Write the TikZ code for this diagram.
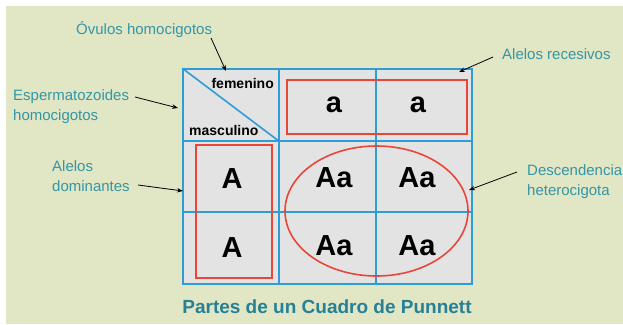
\documentclass[tikz,border=0pt]{standalone}
\usepackage{fontspec}
\setmainfont{Liberation Sans}
\usetikzlibrary{arrows.meta}
\definecolor{bggreen}{RGB}{225,230,196}
\definecolor{cellgray}{RGB}{227,227,227}
\definecolor{gridblue}{RGB}{46,157,214}
\definecolor{redline}{RGB}{232,70,58}
\definecolor{labelteal}{RGB}{52,150,166}
\definecolor{titleteal}{RGB}{38,128,150}
\tikzset{
  cell/.style={draw=gridblue, fill=cellgray, line width=1.6pt, inner sep=0pt},
  lbl/.style={text=labelteal, font=\fontsize{15}{20}\selectfont, inner sep=0pt, align=left, anchor=base west},
  big/.style={font=\fontsize{29}{30}\selectfont\bfseries, inner sep=0pt, anchor=base},
  small/.style={font=\fontsize{14}{16}\selectfont\bfseries, inner sep=0pt, anchor=base},
  redbox/.style={draw=redline, line width=1.6pt},
  pointer/.style={-{Stealth[length=6pt,width=4.5pt]}, line width=0.8pt, black}
}
\begin{document}
\begin{tikzpicture}[x=1pt,y=-1pt]
\useasboundingbox (0,0) rectangle (623,324);
\fill[white] (0,0) rectangle (623,324);
\fill[bggreen] (6,6) rectangle (623,324);
% grid cells
\node[cell, minimum width=96pt, minimum height=72pt] (c11) at (231,105) {};
\node[cell, minimum width=97pt, minimum height=72pt] (c12) at (327.5,105) {};
\node[cell, minimum width=96pt, minimum height=72pt] (c13) at (424,105) {};
\node[cell, minimum width=96pt, minimum height=71pt] (c21) at (231,176.5) {};
\node[cell, minimum width=97pt, minimum height=71pt] (c22) at (327.5,176.5) {};
\node[cell, minimum width=96pt, minimum height=71pt] (c23) at (424,176.5) {};
\node[cell, minimum width=96pt, minimum height=72pt] (c31) at (231,248) {};
\node[cell, minimum width=97pt, minimum height=72pt] (c32) at (327.5,248) {};
\node[cell, minimum width=96pt, minimum height=72pt] (c33) at (424,248) {};
\draw[gridblue, line width=1.6pt] (c11.north west) -- (c11.south east);
% red outlines
\draw[redbox] (287,80) rectangle (467,134);
\draw[redbox] (196,145) rectangle (272,278);
\draw[redbox] (376.5,211) ellipse [x radius=91.5pt, y radius=65pt];
% cell texts
\node[small, anchor=base east] (fem) at (274,88) {femenino};
\node[small, anchor=base west] (mas) at (189,135) {masculino};
\node[big] (a1) at (334,112) {a};
\node[big] (a2) at (418,112) {a};
\node[big] (A1) at (232,188) {A};
\node[big] (A2) at (232,257) {A};
\node[big] (Aa1) at (334,187) {Aa};
\node[big] (Aa2) at (417,187) {Aa};
\node[big] (Aa3) at (334,255) {Aa};
\node[big] (Aa4) at (417,255) {Aa};
% title
\node[text=titleteal, font=\fontsize{19}{22}\selectfont\bfseries, inner sep=0pt, anchor=base] (title) at (327,313) {Partes de un Cuadro de Punnett};
% labels
\node[lbl] (ovu) at (76,34) {Óvulos homocigotos};
\node[lbl] (esp) at (13,120) {Espermatozoides\\homocigotos};
\node[lbl] (dom) at (52,191) {Alelos\\dominantes};
\node[lbl] (rec) at (502,59) {Alelos recesivos};
\node[lbl] (des) at (527,195) {Descendencia\\heterocigota};
% arrows
\coordinate (ovuS) at (211,38);
\coordinate (ovuE) at (226,71);
\coordinate (espS) at (135,97);
\coordinate (espE) at (178,108);
\coordinate (domS) at (138,185);
\coordinate (domE) at (183,191);
\coordinate (recS) at (493,57);
\coordinate (recE) at (459,72);
\coordinate (desS) at (517,172);
\coordinate (desE) at (469,190);
\draw[pointer] (ovuS) -- (ovuE);
\draw[pointer] (espS) -- (espE);
\draw[pointer] (domS) -- (domE);
\draw[pointer] (recS) -- (recE);
\draw[pointer] (desS) -- (desE);
\end{tikzpicture}
\end{document}
